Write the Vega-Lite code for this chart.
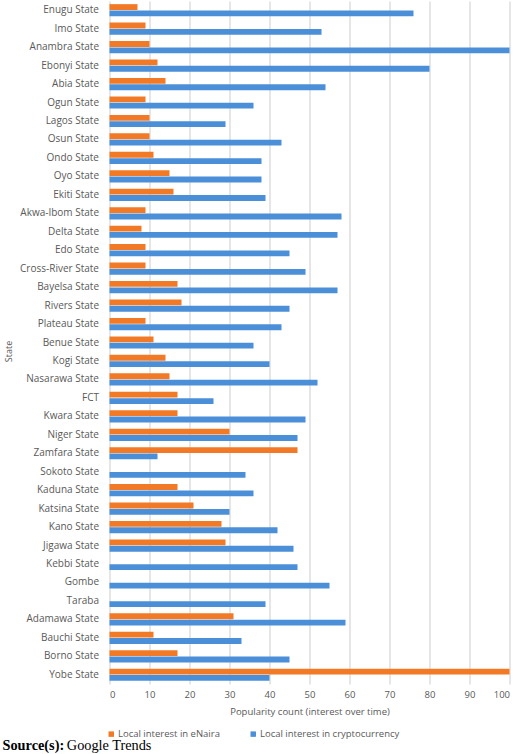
{
  "$schema": "https://vega.github.io/schema/vega-lite/v6.json",
  "autosize": {"type": "none"},
  "width": 400,
  "height": 683,
  "padding": {"left": 109.5, "top": 1, "right": 10.5, "bottom": 70},
  "background": "white",
  "config": {
    "font": "Open Sans",
    "view": {"stroke": null}
  },
  "title": {
    "text": "Source(s):",
    "subtitle": "\u200b\u00a0\u00a0\u00a0\u00a0\u00a0\u00a0\u00a0\u00a0\u00a0\u00a0\u00a0\u00a0\u00a0\u00a0\u00a0\u00a0\u00a0\u00a0Google Trends",
    "orient": "bottom",
    "anchor": "start",
    "frame": "group",
    "dx": -107,
    "offset": 0,
    "font": "Liberation Serif",
    "fontSize": 14.3,
    "fontWeight": "bold",
    "color": "black",
    "subtitleFont": "Liberation Serif",
    "subtitleFontSize": 14.3,
    "subtitleFontWeight": "normal",
    "subtitleColor": "black",
    "subtitlePadding": -14.3
  },
  "data": {
    "values": [
      {"state": "Enugu State", "series": "Local interest in eNaira", "value": 7},
      {"state": "Enugu State", "series": "Local interest in cryptocurrency", "value": 76},
      {"state": "Imo State", "series": "Local interest in eNaira", "value": 9},
      {"state": "Imo State", "series": "Local interest in cryptocurrency", "value": 53},
      {"state": "Anambra State", "series": "Local interest in eNaira", "value": 10},
      {"state": "Anambra State", "series": "Local interest in cryptocurrency", "value": 100},
      {"state": "Ebonyi State", "series": "Local interest in eNaira", "value": 12},
      {"state": "Ebonyi State", "series": "Local interest in cryptocurrency", "value": 80},
      {"state": "Abia State", "series": "Local interest in eNaira", "value": 14},
      {"state": "Abia State", "series": "Local interest in cryptocurrency", "value": 54},
      {"state": "Ogun State", "series": "Local interest in eNaira", "value": 9},
      {"state": "Ogun State", "series": "Local interest in cryptocurrency", "value": 36},
      {"state": "Lagos State", "series": "Local interest in eNaira", "value": 10},
      {"state": "Lagos State", "series": "Local interest in cryptocurrency", "value": 29},
      {"state": "Osun State", "series": "Local interest in eNaira", "value": 10},
      {"state": "Osun State", "series": "Local interest in cryptocurrency", "value": 43},
      {"state": "Ondo State", "series": "Local interest in eNaira", "value": 11},
      {"state": "Ondo State", "series": "Local interest in cryptocurrency", "value": 38},
      {"state": "Oyo State", "series": "Local interest in eNaira", "value": 15},
      {"state": "Oyo State", "series": "Local interest in cryptocurrency", "value": 38},
      {"state": "Ekiti State", "series": "Local interest in eNaira", "value": 16},
      {"state": "Ekiti State", "series": "Local interest in cryptocurrency", "value": 39},
      {"state": "Akwa-Ibom State", "series": "Local interest in eNaira", "value": 9},
      {"state": "Akwa-Ibom State", "series": "Local interest in cryptocurrency", "value": 58},
      {"state": "Delta State", "series": "Local interest in eNaira", "value": 8},
      {"state": "Delta State", "series": "Local interest in cryptocurrency", "value": 57},
      {"state": "Edo State", "series": "Local interest in eNaira", "value": 9},
      {"state": "Edo State", "series": "Local interest in cryptocurrency", "value": 45},
      {"state": "Cross-River State", "series": "Local interest in eNaira", "value": 9},
      {"state": "Cross-River State", "series": "Local interest in cryptocurrency", "value": 49},
      {"state": "Bayelsa State", "series": "Local interest in eNaira", "value": 17},
      {"state": "Bayelsa State", "series": "Local interest in cryptocurrency", "value": 57},
      {"state": "Rivers State", "series": "Local interest in eNaira", "value": 18},
      {"state": "Rivers State", "series": "Local interest in cryptocurrency", "value": 45},
      {"state": "Plateau State", "series": "Local interest in eNaira", "value": 9},
      {"state": "Plateau State", "series": "Local interest in cryptocurrency", "value": 43},
      {"state": "Benue State", "series": "Local interest in eNaira", "value": 11},
      {"state": "Benue State", "series": "Local interest in cryptocurrency", "value": 36},
      {"state": "Kogi State", "series": "Local interest in eNaira", "value": 14},
      {"state": "Kogi State", "series": "Local interest in cryptocurrency", "value": 40},
      {"state": "Nasarawa State", "series": "Local interest in eNaira", "value": 15},
      {"state": "Nasarawa State", "series": "Local interest in cryptocurrency", "value": 52},
      {"state": "FCT", "series": "Local interest in eNaira", "value": 17},
      {"state": "FCT", "series": "Local interest in cryptocurrency", "value": 26},
      {"state": "Kwara State", "series": "Local interest in eNaira", "value": 17},
      {"state": "Kwara State", "series": "Local interest in cryptocurrency", "value": 49},
      {"state": "Niger State", "series": "Local interest in eNaira", "value": 30},
      {"state": "Niger State", "series": "Local interest in cryptocurrency", "value": 47},
      {"state": "Zamfara State", "series": "Local interest in eNaira", "value": 47},
      {"state": "Zamfara State", "series": "Local interest in cryptocurrency", "value": 12},
      {"state": "Sokoto State", "series": "Local interest in eNaira", "value": 0},
      {"state": "Sokoto State", "series": "Local interest in cryptocurrency", "value": 34},
      {"state": "Kaduna State", "series": "Local interest in eNaira", "value": 17},
      {"state": "Kaduna State", "series": "Local interest in cryptocurrency", "value": 36},
      {"state": "Katsina State", "series": "Local interest in eNaira", "value": 21},
      {"state": "Katsina State", "series": "Local interest in cryptocurrency", "value": 30},
      {"state": "Kano State", "series": "Local interest in eNaira", "value": 28},
      {"state": "Kano State", "series": "Local interest in cryptocurrency", "value": 42},
      {"state": "Jigawa State", "series": "Local interest in eNaira", "value": 29},
      {"state": "Jigawa State", "series": "Local interest in cryptocurrency", "value": 46},
      {"state": "Kebbi State", "series": "Local interest in eNaira", "value": 0},
      {"state": "Kebbi State", "series": "Local interest in cryptocurrency", "value": 47},
      {"state": "Gombe", "series": "Local interest in eNaira", "value": 0},
      {"state": "Gombe", "series": "Local interest in cryptocurrency", "value": 55},
      {"state": "Taraba", "series": "Local interest in eNaira", "value": 0},
      {"state": "Taraba", "series": "Local interest in cryptocurrency", "value": 39},
      {"state": "Adamawa State", "series": "Local interest in eNaira", "value": 31},
      {"state": "Adamawa State", "series": "Local interest in cryptocurrency", "value": 59},
      {"state": "Bauchi State", "series": "Local interest in eNaira", "value": 11},
      {"state": "Bauchi State", "series": "Local interest in cryptocurrency", "value": 33},
      {"state": "Borno State", "series": "Local interest in eNaira", "value": 17},
      {"state": "Borno State", "series": "Local interest in cryptocurrency", "value": 45},
      {"state": "Yobe State", "series": "Local interest in eNaira", "value": 100},
      {"state": "Yobe State", "series": "Local interest in cryptocurrency", "value": 40}
    ]
  },
  "mark": {"type": "bar"},
  "encoding": {
    "y": {
      "field": "state",
      "type": "nominal",
      "sort": null,
      "scale": {"paddingInner": 0.34, "paddingOuter": 0.17},
      "axis": {
        "title": "State",
        "titleFont": "Open Sans",
        "titleFontSize": 9,
        "titleFontWeight": "normal",
        "titleColor": "#595959",
        "titleX": -101.5,
        "titleY": 350,
        "titleBaseline": "middle",
        "labelFont": "Open Sans",
        "labelFontSize": 10,
        "labelColor": "#595959",
        "labelPadding": 11,
        "ticks": false,
        "domain": false,
        "grid": false
      }
    },
    "yOffset": {
      "field": "series",
      "sort": ["Local interest in eNaira", "Local interest in cryptocurrency"],
      "scale": {"paddingInner": 0.08}
    },
    "x": {
      "field": "value",
      "type": "quantitative",
      "scale": {"domain": [0, 100], "nice": false},
      "axis": {
        "title": "Popularity count (interest over time)",
        "titleFont": "Open Sans",
        "titleFontSize": 9.5,
        "titleFontWeight": "normal",
        "titleColor": "#595959",
        "titlePadding": 8,
        "values": [0, 10, 20, 30, 40, 50, 60, 70, 80, 90, 100],
        "labelFont": "Open Sans",
        "labelFontSize": 9.5,
        "labelColor": "#595959",
        "labelPadding": 5,
        "ticks": false,
        "domain": false,
        "grid": true,
        "gridColor": "#D9D9D9",
        "gridWidth": 1.3
      }
    },
    "color": {
      "field": "series",
      "type": "nominal",
      "scale": {
        "domain": ["Local interest in eNaira", "Local interest in cryptocurrency"],
        "range": ["#F27A26", "#4A8FD8"]
      },
      "legend": {
        "title": null,
        "orient": "none",
        "legendX": -3,
        "legendY": 728,
        "direction": "horizontal",
        "columns": 2,
        "symbolType": "square",
        "symbolSize": 30,
        "symbolStrokeWidth": 0,
        "labelFont": "Open Sans",
        "labelFontSize": 9.5,
        "labelColor": "#595959",
        "labelOffset": 2,
        "columnPadding": 28
      }
    }
  }
}
